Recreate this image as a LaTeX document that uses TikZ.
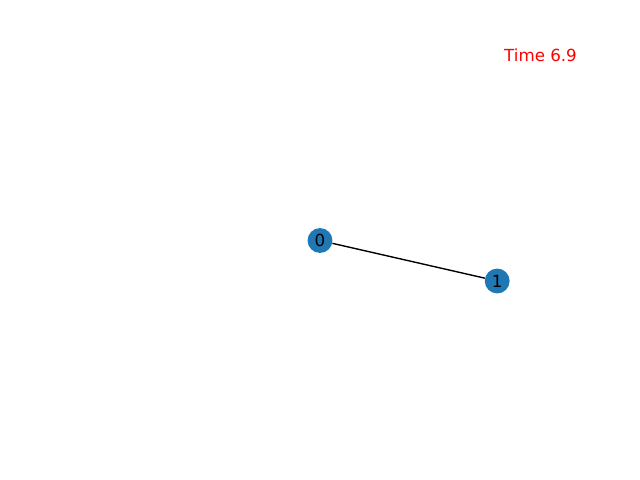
\documentclass[tikz,border=0pt]{standalone}
\usepackage{fontspec}
\setmainfont{DejaVu Sans}
\definecolor{mplblue}{HTML}{1F77B4}
\tikzset{
  gnode/.style={circle, fill=mplblue, minimum size=17.9pt, inner sep=0pt, font=\fontsize{12}{14}\selectfont, text=black},
  gedge/.style={draw=black, line width=1pt},
  timelabel/.style={text=red, font=\fontsize{12}{14}\selectfont, inner sep=0pt}
}
\begin{document}
\begin{tikzpicture}[x=0.72pt, y=-0.72pt]
\useasboundingbox (0,0) rectangle (640,480);
\node[gnode] (n0) at (320,240.5) {0};
\node[gnode] (n1) at (497.2,281) {1};
\draw[gedge] (n0) -- (n1);
\node[timelabel] (t) at (540.5,55.5) {Time 6.9};
\end{tikzpicture}
\end{document}
